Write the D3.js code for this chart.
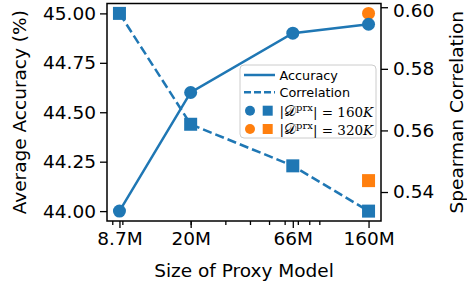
<!DOCTYPE html>
<html>
<head>
<meta charset="utf-8">
<script src="https://cdn.jsdelivr.net/npm/d3@7"></script>
<style>
  html, body { margin: 0; padding: 0; background: #fff; }
  svg { display: block; }
  text { font-family: "DejaVu Sans", sans-serif; fill: #000; }
</style>
</head>
<body>
<script>
// ---------- data ----------
const modelSizes = [8.7, 20, 66, 160];           // millions of params
const sizeLabels = ["8.7M", "20M", "66M", "160M"];
const accuracy160K = [44.00, 44.60, 44.90, 44.945];
const correlation160K = [0.598, 0.562, 0.5485, 0.5338];
const size320K = [160];
const accuracy320K = [45.00];
const correlation320K = [0.5437];
const accTicks = [44.00, 44.25, 44.50, 44.75, 45.00];
const corrTicks = [0.54, 0.56, 0.58, 0.60];

// ---------- layout ----------
const W = 467, H = 284;
const L = 107, R = 381, T = 3.5, B = 221;
const blue = "#1f77b4", orange = "#ff7f0e";

const svg = d3.select("body").append("svg").attr("width", W).attr("height", H);

// x: log with 5% margins in log space
const lmin = Math.log10(d3.min(modelSizes)), lmax = Math.log10(d3.max(modelSizes));
const lpad = 0.05 * (lmax - lmin);
const x = d3.scaleLog().domain([10 ** (lmin - lpad), 10 ** (lmax + lpad)]).range([L, R]);

const accAll = accuracy160K.concat(accuracy320K);
const aMin = d3.min(accAll), aMax = d3.max(accAll), aPad = 0.05 * (aMax - aMin);
const yA = d3.scaleLinear().domain([aMin - aPad, aMax + aPad]).range([B, T]);

const corrAll = correlation160K.concat(correlation320K);
const cMin = d3.min(corrAll), cMax = d3.max(corrAll), cPad = 0.05 * (cMax - cMin);
const yC = d3.scaleLinear().domain([cMin - cPad, cMax + cPad]).range([B, T]);

const fs = 18.5;

// ---------- axes ----------
const gL = svg.append("g").attr("transform", `translate(${L},0)`)
  .call(d3.axisLeft(yA).tickValues(accTicks).tickFormat(d3.format(".2f")).tickSize(7).tickPadding(4));
const gR = svg.append("g").attr("transform", `translate(${R},0)`)
  .call(d3.axisRight(yC).tickValues(corrTicks).tickFormat(d3.format(".2f")).tickSize(7).tickPadding(5));
const gB = svg.append("g").attr("transform", `translate(0,${B})`)
  .call(d3.axisBottom(x).tickValues(modelSizes).tickFormat((d, i) => sizeLabels[i]).tickSize(7).tickPadding(4));
// bottom minor ticks (non-decade log ticks)
const minorVals = x.ticks().filter(v => {
  const e = Math.log10(v);
  return Math.abs(e - Math.round(e)) > 1e-9;
});
svg.append("g").attr("transform", `translate(0,${B})`)
  .call(d3.axisBottom(x).tickValues(minorVals).tickFormat("").tickSize(4))
  .call(g => g.select(".domain").remove());

[gL, gR, gB].forEach(g => {
  g.selectAll("text").style("font-size", fs + "px").style("font-family", "DejaVu Sans");
  g.select(".domain").remove();
});
svg.selectAll("g.tick line").attr("stroke", "#000").attr("stroke-width", 1.3);
// keep the top tick label of the right axis fully inside the window
gR.selectAll("text").attr("dy", (d) => d === 0.60 ? "0.52em" : "0.32em");

// frame
svg.append("rect").attr("x", L).attr("y", T).attr("width", R - L).attr("height", B - T)
  .attr("fill", "none").attr("stroke", "#000").attr("stroke-width", 1.5);

// axis labels
svg.append("text").attr("transform", `translate(26,${(T + B) / 2}) rotate(-90)`)
  .attr("text-anchor", "middle").style("font-size", fs + "px").text("Average Accuracy (%)");
svg.append("text").attr("transform", `translate(${W - 4},${(T + B) / 2}) rotate(-90)`)
  .attr("text-anchor", "middle").style("font-size", fs + "px").text("Spearman Correlation");
svg.append("text").attr("x", (L + R) / 2).attr("y", 277)
  .attr("text-anchor", "middle").style("font-size", fs + "px").text("Size of Proxy Model");

// ---------- series ----------
const lineA = d3.line().x((d, i) => x(modelSizes[i])).y(d => yA(d));
const lineC = d3.line().x((d, i) => x(modelSizes[i])).y(d => yC(d));

const plot = svg.append("g");
plot.append("path").datum(accuracy160K).attr("d", lineA)
  .attr("fill", "none").attr("stroke", blue).attr("stroke-width", 2.5);
plot.append("path").datum(correlation160K).attr("d", lineC)
  .attr("fill", "none").attr("stroke", blue).attr("stroke-width", 2.5)
  .attr("stroke-dasharray", "9.2,4");

const sq = 13, r = 6.5;
plot.selectAll(".oc").data(accuracy320K).enter().append("circle")
  .attr("cx", (d, i) => x(size320K[i])).attr("cy", d => yA(d)).attr("r", r).attr("fill", orange);
plot.selectAll(".os").data(correlation320K).enter().append("rect")
  .attr("x", (d, i) => x(size320K[i]) - sq / 2).attr("y", d => yC(d) - sq / 2)
  .attr("width", sq).attr("height", sq).attr("fill", orange);
plot.selectAll(".bc").data(accuracy160K).enter().append("circle")
  .attr("cx", (d, i) => x(modelSizes[i])).attr("cy", d => yA(d)).attr("r", r).attr("fill", blue);
plot.selectAll(".bs").data(correlation160K).enter().append("rect")
  .attr("x", (d, i) => x(modelSizes[i]) - sq / 2).attr("y", d => yC(d) - sq / 2)
  .attr("width", sq).attr("height", sq).attr("fill", blue);

// ---------- legend ----------
const lg = svg.append("g");
const lx = 240, ly = 65, lw = 136, lh = 73;
lg.append("rect").attr("x", lx).attr("y", ly).attr("width", lw).attr("height", lh)
  .attr("rx", 4).attr("fill", "#fff").attr("fill-opacity", 0.85)
  .attr("stroke", "#cccccc").attr("stroke-width", 1);
const rows = [75, 92.3, 110.7, 129];
const hx0 = 244, hx1 = 275, tx = 279.5, lfs = 12.8;
lg.append("line").attr("x1", hx0).attr("x2", hx1).attr("y1", rows[0]).attr("y2", rows[0])
  .attr("stroke", blue).attr("stroke-width", 2.5);
lg.append("line").attr("x1", hx0).attr("x2", hx1).attr("y1", rows[1]).attr("y2", rows[1])
  .attr("stroke", blue).attr("stroke-width", 2.5).attr("stroke-dasharray", "7,3");
lg.append("text").attr("x", tx).attr("y", rows[0]).attr("dy", "0.36em").style("font-size", lfs + "px").text("Accuracy");
lg.append("text").attr("x", tx).attr("y", rows[1]).attr("dy", "0.36em").style("font-size", lfs + "px").text("Correlation");

const setLabels = ["160", "320"];
[blue, orange].forEach((c, k) => {
  const yy = rows[2 + k];
  lg.append("circle").attr("cx", 250).attr("cy", yy).attr("r", 5).attr("fill", c);
  lg.append("rect").attr("x", 267.7 - 5).attr("y", yy - 5).attr("width", 10).attr("height", 10).attr("fill", c);
  const t = lg.append("text").attr("x", tx).attr("y", yy).attr("dy", "0.36em")
    .style("font-size", "13.5px").style("font-family", "'DejaVu Serif', 'Liberation Serif', serif");
  t.append("tspan").text("|");
  t.append("tspan").style("font-size", "15px").text("𝒟");
  t.append("tspan").attr("dy", "-0.45em").style("font-size", "10px").text("prx");
  t.append("tspan").attr("dy", "0.45em").text("| = " + setLabels[k]);
  t.append("tspan").style("font-style", "italic").text("K");
});
</script>
</body>
</html>
